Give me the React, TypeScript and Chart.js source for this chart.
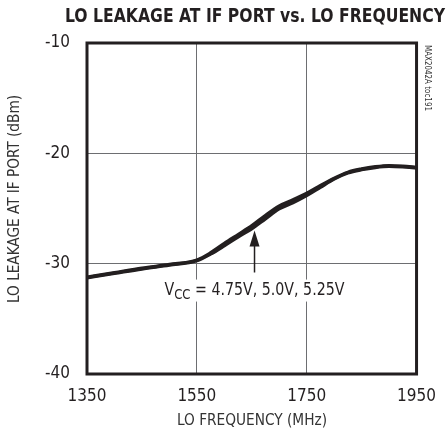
import React, { useEffect, useRef } from "react";
import { Chart, registerables } from "chart.js";

Chart.register(...registerables);

const freqMHz = [1350, 1400, 1450, 1500, 1550, 1575, 1600, 1625, 1650, 1675, 1700, 1725, 1750, 1775, 1800, 1825, 1850, 1875, 1900, 1925, 1950];
const leak475 = [-31.3, -30.9, -30.5, -30.15, -29.75, -29.15, -28.4, -27.6, -26.85, -25.95, -25.05, -24.5, -23.85, -23.1, -22.35, -21.8, -21.5, -21.3, -21.2, -21.25, -21.35];
const leak500 = [-31.25, -30.85, -30.45, -30.1, -29.7, -29.1, -28.3, -27.5, -26.7, -25.8, -24.9, -24.35, -23.7, -23.0, -22.3, -21.75, -21.45, -21.25, -21.15, -21.2, -21.3];
const leak525 = [-31.2, -30.8, -30.4, -30.05, -29.65, -29.0, -28.15, -27.35, -26.55, -25.6, -24.75, -24.2, -23.6, -22.9, -22.25, -21.7, -21.4, -21.2, -21.1, -21.15, -21.25];
const xTicks = [1350, 1550, 1750, 1950];
const yTicks = [-40, -30, -20, -10];

const titleText = "LO LEAKAGE AT IF PORT vs. LO FREQUENCY";
const xTitle = "LO FREQUENCY (MHz)";
const yTitle = "LO LEAKAGE AT IF PORT (dBm)";
const sideNote = "MAX2042A toc191";
const annotRest = " = 4.75V, 5.0V, 5.25V";
const arrowFreq = 1655;
const arrowTip = -27.0;
const arrowTail = -30.8;
const labelFreq = 1491;
const labelBase = -32.8;

const NARROW = "'Liberation Sans Narrow', 'DejaVu Sans Condensed', Arial, sans-serif";

function fitText(ctx: CanvasRenderingContext2D, text: string, cx: number, cy: number, width: number) {
  const w = ctx.measureText(text).width;
  const s = width / w;
  ctx.save();
  ctx.translate(cx, cy);
  ctx.scale(s, 1);
  ctx.textAlign = "center";
  ctx.fillText(text, 0, 0);
  ctx.restore();
}

const decorPlugin = {
  id: "decor",
  afterDraw(chart: any) {
    const ctx: CanvasRenderingContext2D = chart.ctx;
    const { left, right, top, bottom } = chart.chartArea;
    const xs = chart.scales.x;
    const ys = chart.scales.y;
    ctx.save();
    // frame
    ctx.strokeStyle = "#231f20";
    ctx.lineWidth = 3;
    ctx.strokeRect(left, top, right - left, bottom - top);

    ctx.fillStyle = "#231f20";
    ctx.textBaseline = "middle";
    // title
    ctx.font = `bold 20px ${NARROW}`;
    fitText(ctx, titleText, 255, 17, 380);
    // x title
    ctx.fillStyle = "#333";
    ctx.font = `16px ${NARROW}`;
    fitText(ctx, xTitle, 252, 421, 150);
    // y title
    ctx.save();
    ctx.translate(15, 199);
    ctx.rotate(-Math.PI / 2);
    ctx.font = `16px ${NARROW}`;
    fitText(ctx, yTitle, 0, 0, 208);
    ctx.restore();
    // side note
    ctx.save();
    ctx.translate(427, 78);
    ctx.rotate(Math.PI / 2);
    ctx.font = `9px ${NARROW}`;
    fitText(ctx, sideNote, 0, 0, 66);
    ctx.restore();

    // annotation arrow
    ctx.fillStyle = "#231f20";
    const ax = xs.getPixelForValue(arrowFreq);
    const tipY = ys.getPixelForValue(arrowTip);
    const tailY = ys.getPixelForValue(arrowTail);
    ctx.strokeStyle = "#231f20";
    ctx.lineWidth = 1.5;
    ctx.beginPath();
    ctx.moveTo(ax, tailY);
    ctx.lineTo(ax, tipY + 14);
    ctx.stroke();
    ctx.beginPath();
    ctx.moveTo(ax, tipY);
    ctx.lineTo(ax - 5, tipY + 16);
    ctx.lineTo(ax + 5, tipY + 16);
    ctx.closePath();
    ctx.fill();

    // annotation text
    const lx = xs.getPixelForValue(labelFreq);
    const ly = ys.getPixelForValue(labelBase);
    ctx.textBaseline = "alphabetic";
    ctx.textAlign = "left";
    const mainFont = `17px ${NARROW}`;
    const subFont = `14px ${NARROW}`;
    ctx.font = mainFont;
    const vW = ctx.measureText("V").width;
    ctx.font = subFont;
    const ccW = ctx.measureText("CC").width;
    ctx.font = mainFont;
    const restW = ctx.measureText(annotRest).width;
    const total = vW + ccW + restW;
    const sc = 180 / total;
    ctx.fillStyle = "#ffffff";
    ctx.fillRect(lx - 3, ly - 15, 186, 22);
    ctx.fillStyle = "#231f20";
    ctx.save();
    ctx.translate(lx, ly);
    ctx.scale(sc, 1);
    ctx.font = mainFont;
    ctx.fillText("V", 0, 0);
    ctx.font = subFont;
    ctx.fillText("CC", vW, 4);
    ctx.font = mainFont;
    ctx.fillText(annotRest, vW + ccW, 0);
    ctx.restore();
    ctx.restore();
  },
};

export default function App() {
  const ref = useRef<HTMLCanvasElement | null>(null);
  useEffect(() => {
    if (!ref.current) return;
    const mk = (vals: number[]) => freqMHz.map((f, i) => ({ x: f, y: vals[i] }));
    const ds = (label: string, vals: number[]) => ({
      label,
      data: mk(vals),
      borderColor: "#231f20",
      borderWidth: 3,
      pointRadius: 0,
      cubicInterpolationMode: "monotone" as const,
      fill: false,
    });
    const chart = new Chart(ref.current, {
      type: "line",
      data: {
        datasets: [ds("4.75V", leak475), ds("5.0V", leak500), ds("5.25V", leak525)],
      },
      plugins: [decorPlugin],
      options: {
        animation: false,
        responsive: false,
        maintainAspectRatio: false,
        layout: { padding: { left: 0, top: 43, right: 29, bottom: 0 } },
        plugins: {
          legend: { display: false },
          title: { display: false },
          tooltip: { enabled: false },
        },
        scales: {
          x: {
            type: "linear",
            min: 1350,
            max: 1950,
            afterFit: (s: any) => { s.height = 62; },
            afterBuildTicks: (s: any) => { s.ticks = xTicks.map((v) => ({ value: v })); },
            grid: { color: "#6d6e71", lineWidth: 1, drawTicks: false },
            border: { display: false },
            ticks: {
              padding: 12,
              color: "#231f20",
              font: { family: NARROW, size: 17 },
              callback: (v: any) => String(v),
            },
          },
          y: {
            type: "linear",
            min: -40,
            max: -10,
            afterFit: (s: any) => { s.width = 87; },
            afterBuildTicks: (s: any) => { s.ticks = yTicks.map((v) => ({ value: v })); },
            grid: { color: "#6d6e71", lineWidth: 1, drawTicks: false },
            border: { display: false },
            ticks: {
              padding: 17,
              color: "#231f20",
              font: { family: NARROW, size: 17 },
              callback: (v: any) => String(v),
            },
          },
        },
      },
    });
    return () => chart.destroy();
  }, []);
  return (
    <div style={{ position: "fixed", left: 0, top: 0, width: 448, height: 436, background: "#fff" }}>
      <canvas ref={ref} width={448} height={436} style={{ width: 448, height: 436 }} />
    </div>
  );
}
